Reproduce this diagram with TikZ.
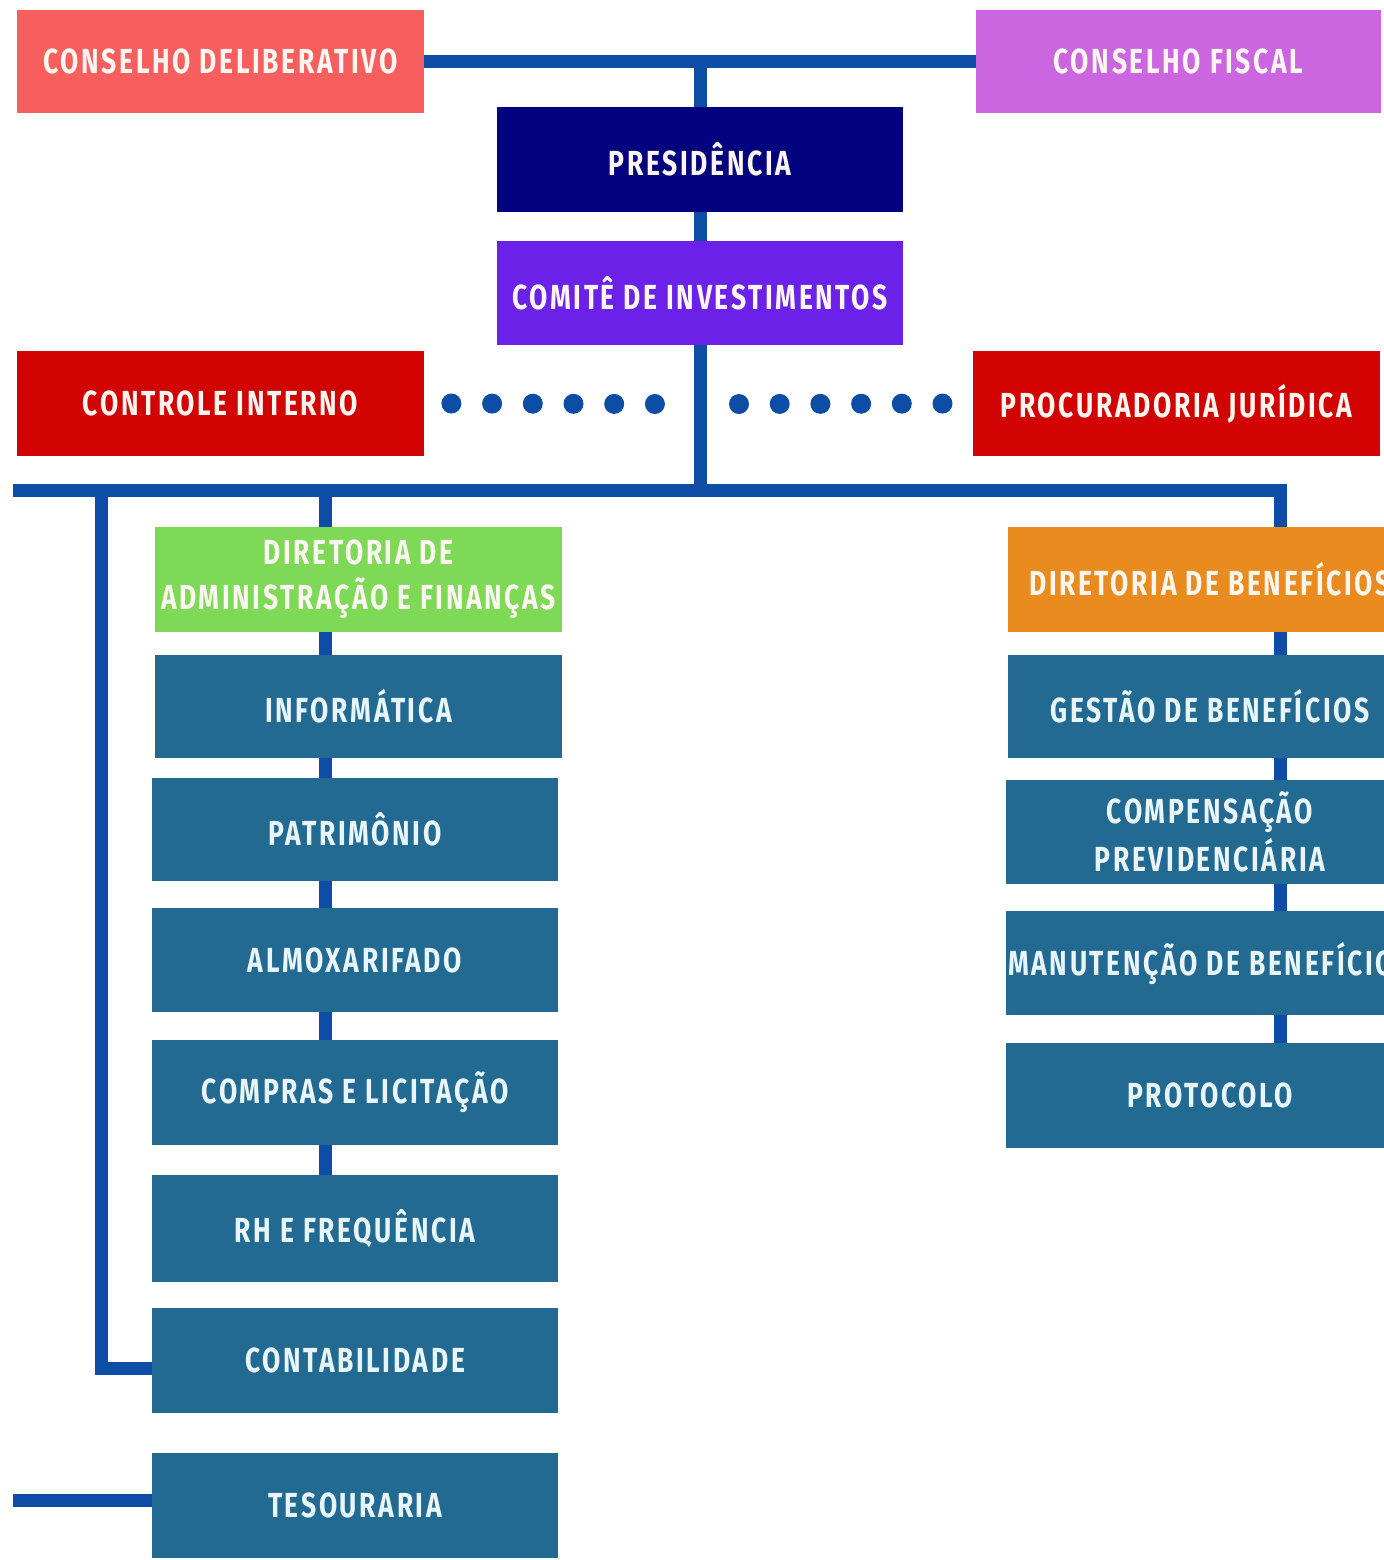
\documentclass[tikz,border=0pt]{standalone}
\usepackage{fontspec}
\setmainfont{Fira Sans}[FakeStretch=0.76,LetterSpace=7.6]
\usetikzlibrary{backgrounds,calc}
\definecolor{cdc}{HTML}{F75E5E}
\definecolor{cfc}{HTML}{CB66E0}
\definecolor{presc}{HTML}{030380}
\definecolor{comc}{HTML}{6B21E8}
\definecolor{redc}{HTML}{D20303}
\definecolor{greenc}{HTML}{7ED957}
\definecolor{orangec}{HTML}{E98B1E}
\definecolor{tealc}{HTML}{236A93}
\definecolor{linec}{HTML}{0D4DA6}
\definecolor{txtc}{HTML}{FCF6F0}
\definecolor{txtb}{HTML}{E8F6FA}
\newcommand{\boxfont}{\fontsize{17.4}{22.5}\selectfont\bfseries}
\tikzset{
  box/.style={rectangle, inner sep=0pt, align=center, text=txtc, font=\boxfont},
  unit/.style={box, fill=tealc, text=txtb},
  conn/.style={draw=linec, line width=6.5pt},
  dotline/.style={draw=linec, line width=10pt, line cap=round, dash pattern=on 0pt off 20.35pt}
}
\begin{document}
\begin{tikzpicture}[x=0.5pt,y=-0.5pt]
\useasboundingbox (0,0) rectangle (1384,1560);
\clip (0,0) rectangle (1384,1560);
% top level
\node[box, fill=cdc, minimum width=203.5pt, minimum height=51.5pt] (cd) at (220.5,61.5) {CONSELHO DELIBERATIVO};
\node[box, fill=cfc, minimum width=202.5pt, minimum height=51.5pt] (cf) at (1178.5,61.5) {CONSELHO FISCAL};
\node[box, fill=presc, minimum width=203pt, minimum height=52.5pt] (pres) at (700,159.5) {PRESIDÊNCIA};
\node[box, fill=comc, minimum width=203pt, minimum height=52pt] (com) at (700,293) {COMITÊ DE INVESTIMENTOS};
\node[box, fill=redc, minimum width=203.5pt, minimum height=52.5pt] (ci) at (220.5,403.5) {CONTROLE INTERNO};
\node[box, fill=redc, minimum width=203.5pt, minimum height=52.5pt] (pj) at (1176.5,403.5) {PROCURADORIA JURÍDICA};
% left branch
\node[box, fill=greenc, minimum width=203.5pt, minimum height=52.5pt] (daf) at (358.5,579.5) {DIRETORIA DE\\ADMINISTRAÇÃO E FINANÇAS};
\node[unit, minimum width=203.5pt, minimum height=51.5pt] (info) at (358.5,706.5) {INFORMÁTICA};
\node[unit, minimum width=203pt, minimum height=51.5pt] (pat) at (355,829.5) {PATRIMÔNIO};
\node[unit, minimum width=203pt, minimum height=52pt] (alm) at (355,960) {ALMOXARIFADO};
\node[unit, minimum width=203pt, minimum height=52.5pt] (comp) at (355,1092.5) {COMPRAS E LICITAÇÃO};
\node[unit, minimum width=203pt, minimum height=53.5pt] (rh) at (355,1228.5) {RH E FREQUÊNCIA};
\node[unit, minimum width=203pt, minimum height=52.5pt] (cont) at (355,1360.5) {CONTABILIDADE};
\node[unit, minimum width=203pt, minimum height=52.5pt] (tes) at (355,1505.5) {TESOURARIA};
% right branch
\node[box, fill=orangec, minimum width=202pt, minimum height=52.5pt] (dben) at (1210,579.5) {DIRETORIA DE BENEFÍCIOS};
\node[unit, minimum width=202pt, minimum height=51.5pt] (gb) at (1210,706.5) {GESTÃO DE BENEFÍCIOS};
\node[unit, minimum width=204pt, minimum height=52pt, font=\fontsize{17.4}{24}\selectfont\bfseries] (cp) at (1210,832) {COMPENSAÇÃO\\PREVIDENCIÁRIA};
\node[unit, minimum width=204pt, minimum height=52pt] (mb) at (1210,963) {MANUTENÇÃO DE BENEFÍCIOS};
\node[unit, minimum width=204pt, minimum height=52.5pt] (prot) at (1210,1095.5) {PROTOCOLO};
% free ends of connectors
\coordinate (busL) at (13,490);
\coordinate (busR) at (1280,490);
\coordinate (lv) at (101,490);
\coordinate (br) at (325,490);
\coordinate (tl) at (13,1500);
\coordinate (main) at (700,404);
\begin{scope}[on background layer]
  \fill[white] (0,0) rectangle (1384,1560);
  \draw[conn] (cd.east) -- (cf.west);
  \draw[conn] (pres.north |- cd.east) -- (pres.north |- busL);
  \draw[conn] (busL) -- (busR) -- (busR |- prot.north);
  \draw[conn] (lv) |- ([yshift=-3.75pt]cont.west);
  \draw[conn] (br) -- (br |- rh.north);
  \draw[conn] (tl) -- (tes.west |- tl);
  \draw[dotline] ($(ci.east)+(27,0)$) -- ($(main)+(-40,0)$);
  \draw[dotline] ($(main)+(39,0)$) -- ($(pj.west)+(12,0)$);
\end{scope}
\end{tikzpicture}
\end{document}
